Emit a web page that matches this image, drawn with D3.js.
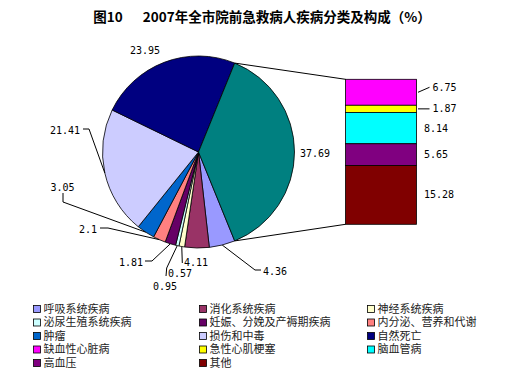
<!DOCTYPE html>
<html>
<head>
<meta charset="utf-8">
<script src="https://cdn.jsdelivr.net/npm/d3@7"></script>
<style>
  html, body { margin: 0; padding: 0; background: #fff; }
  svg { display: block; }
</style>
</head>
<body>
<div id="chart"></div>
<script>
// pie slices (last one is split out into the bar)
const pieNames = ["呼吸系统疾病", "消化系统疾病", "神经系统疾病", "泌尿生殖系统疾病", "妊娠、分娩及产褥期疾病",
  "内分泌、营养和代谢", "肿瘤", "损伤和中毒", "自然死亡", "其他类"];
const pieValues = [4.36, 4.11, 0.95, 0.57, 1.81, 2.1, 3.05, 21.41, 23.95, 37.69];
const pieColors = ["#9999ff", "#993366", "#ffffcc", "#ccffff", "#660066",
  "#ff8080", "#0066cc", "#ccccff", "#000080", "#008080"];

// second plot (bar), top to bottom
const barNames = ["缺血性心脏病", "急性心肌梗塞", "脑血管病", "高血压", "其他"];
const barValues = [6.75, 1.87, 8.14, 5.65, 15.28];
const barColors = ["#ff00ff", "#ffff00", "#00ffff", "#800080", "#800000"];

const legendNames = pieNames.slice(0, 9).concat(barNames);
const legendColors = pieColors.slice(0, 9).concat(barColors);

const width = 505, height = 373;
const cx = 198.5, cy = 152, r = 96;

const svg = d3.select("#chart").append("svg")
  .attr("width", width)
  .attr("height", height);

svg.append("text")
  .attr("x", 262)
  .attr("y", 16)
  .attr("text-anchor", "middle")
  .attr("dominant-baseline", "central")
  .style("font", "bold 13.5px 'Noto Sans CJK SC'")
  .text("图10")
  .append("tspan")
  .attr("dx", 20)
  .text("2007年全市院前急救病人疾病分类及构成（%）");

// pie
const total = d3.sum(pieValues);
const splitShare = pieValues[pieValues.length - 1] / total;
const start = Math.PI / 2 + splitShare * Math.PI;
const pie = d3.pie().sort(null).startAngle(start).endAngle(start + 2 * Math.PI);
const arcs = pie(pieValues);
const arc = d3.arc().innerRadius(0).outerRadius(r);

const g = svg.append("g").attr("transform", `translate(${cx},${cy})`);
g.selectAll("path")
  .data(arcs)
  .join("path")
  .attr("d", arc)
  .attr("fill", (d, i) => pieColors[i])
  .attr("stroke", "#000")
  .attr("stroke-width", 0.8);

const polar = a => [cx + r * Math.sin(a), cy - r * Math.cos(a)];

// bar of pie
const barX = 345.5, barW = 71, barTop = 79.3, barBottom = 224.3;
const y = d3.scaleLinear().domain([0, d3.sum(barValues)]).range([barTop, barBottom]);
const cum = d3.cumsum([0].concat(barValues));
const bars = barValues.map((v, i) => ({ v, y0: y(cum[i]), y1: y(cum[i + 1]) }));

svg.append("g")
  .selectAll("rect")
  .data(bars)
  .join("rect")
  .attr("x", barX)
  .attr("y", d => d.y0)
  .attr("width", barW)
  .attr("height", d => d.y1 - d.y0)
  .attr("fill", (d, i) => barColors[i])
  .attr("stroke", "#000")
  .attr("stroke-width", 0.8);

// connectors from the split slice to the bar
const split = arcs[arcs.length - 1];
const p0 = polar(split.startAngle), p1 = polar(split.endAngle);
svg.append("g")
  .attr("stroke", "#000")
  .attr("stroke-width", 1)
  .selectAll("line")
  .data([[p0, [barX, barTop]], [p1, [barX, barBottom]]])
  .join("line")
  .attr("x1", d => d[0][0]).attr("y1", d => d[0][1])
  .attr("x2", d => d[1][0]).attr("y2", d => d[1][1]);

// pie data labels: label anchor, text anchor, optional leader elbow
const pieLabelLayout = [
  { x: 263, y: 271, anchor: "start", leader: [[261, 270], [255, 270]] },
  { x: 184, y: 262, anchor: "start" },
  { x: 153, y: 286, anchor: "start", leader: [[182.3, 263]] },
  { x: 168, y: 273, anchor: "start", leader: [[166, 276], [166.7, 268]] },
  { x: 143, y: 262, anchor: "end", leader: [[145, 261], [152, 261]] },
  { x: 97, y: 229, anchor: "end", leader: [[100, 228], [108, 228]] },
  { x: 62.5, y: 187, anchor: "middle", leader: [[63, 193], [63, 202]] },
  { x: 80, y: 130, anchor: "end", leader: [[83, 129], [89, 129]] },
  { x: 145, y: 50, anchor: "middle" },
  { x: 300, y: 153, anchor: "start" }
];

const labelFont = "10px 'DejaVu Sans Mono'";
const line = d3.line();

arcs.forEach((d, i) => {
  const L = pieLabelLayout[i];
  if (L.leader) {
    const mid = (d.startAngle + d.endAngle) / 2;
    svg.append("path")
      .attr("d", line(L.leader.concat([polar(mid)])))
      .attr("fill", "none")
      .attr("stroke", "#000")
      .attr("stroke-width", 1);
  }
  svg.append("text")
    .attr("x", L.x)
    .attr("y", L.y)
    .attr("dy", "0.35em")
    .attr("text-anchor", L.anchor)
    .style("font", labelFont)
    .text(pieValues[i]);
});

// bar data labels (first two are pulled out with a leader)
const barLabelShift = [-5, 0, 0, 0, 0];
const barLeader = [true, true, false, false, false];
bars.forEach((d, i) => {
  const mid = (d.y0 + d.y1) / 2;
  const ly = mid + barLabelShift[i];
  if (barLeader[i]) {
    svg.append("path")
      .attr("d", line([[barX + barW + 1.5, mid], [barX + barW + 13, ly]]))
      .attr("fill", "none")
      .attr("stroke", "#000")
      .attr("stroke-width", 1);
  }
  svg.append("text")
    .attr("x", barLeader[i] ? barX + barW + 16 : barX + barW + 7.5)
    .attr("y", ly)
    .attr("dy", "0.35em")
    .style("font", labelFont)
    .text(d.v.toFixed(2));
});

// legend
const colX = [33, 199, 367];
const rowY = [309, 322.5, 336, 349.5, 363];
const item = svg.append("g")
  .selectAll("g")
  .data(legendNames)
  .join("g")
  .attr("transform", (d, i) => `translate(${colX[i % 3]},${rowY[Math.floor(i / 3)]})`);

item.append("rect")
  .attr("x", 0.5)
  .attr("y", -3.5)
  .attr("width", 7)
  .attr("height", 7)
  .attr("fill", (d, i) => legendColors[i])
  .attr("stroke", "#000")
  .attr("stroke-width", 0.8);

item.append("text")
  .attr("x", 10.5)
  .attr("dy", "0.35em")
  .style("font", "11px 'Noto Sans CJK SC'")
  .attr("fill", "#222")
  .text(d => d);
</script>
</body>
</html>
